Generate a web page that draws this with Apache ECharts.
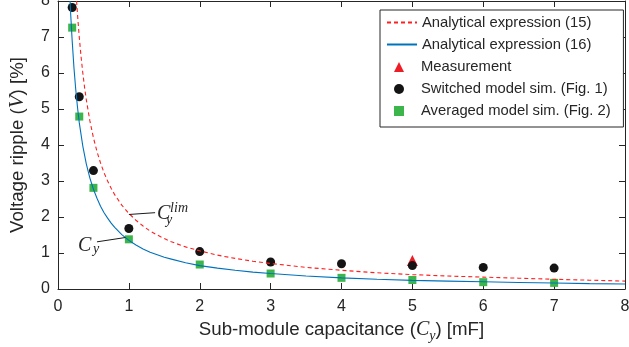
<!DOCTYPE html>
<html>
<head>
<meta charset="utf-8">
<script src="https://cdn.jsdelivr.net/npm/echarts@6/dist/echarts.min.js"></script>
<style>
  html, body { margin: 0; padding: 0; background: #fff; }
  #chart { width: 629px; height: 347px; }
</style>
</head>
<body>
<div id="chart"></div>
<script>
// values
const capacitance = [0.2, 0.3, 0.5, 1, 2, 3, 4, 5, 6, 7];
const switchedRipple = [7.82, 5.34, 3.29, 1.68, 1.04, 0.75, 0.70, 0.65, 0.60, 0.58];
const averagedRipple = [7.26, 4.79, 2.81, 1.38, 0.68, 0.43, 0.31, 0.25, 0.19, 0.17];
const measurementC = [5];
const measurementRipple = [0.79];

// analytical curves
const expr15C = [0.262, 0.28, 0.3, 0.325, 0.35, 0.375, 0.4, 0.45, 0.5, 0.55, 0.6, 0.65, 0.7, 0.75, 0.8, 0.9,
  1.0, 1.1, 1.2, 1.3, 1.4, 1.5, 1.6, 1.8, 2.0, 2.25, 2.5, 2.75, 3.0, 3.5, 4, 4.5, 5, 5.5, 6, 6.5, 7, 7.5, 8];
const expr15Ripple = [8.0, 7.5, 7.0, 6.46, 6.0, 5.6, 5.25, 4.67, 4.2, 3.82, 3.5, 3.23, 3.0, 2.8, 2.62, 2.33,
  2.1, 1.91, 1.75, 1.61, 1.5, 1.4, 1.31, 1.17, 1.06, 0.94, 0.85, 0.77, 0.71, 0.6, 0.52, 0.45, 0.40, 0.36, 0.33, 0.30, 0.27, 0.245, 0.22];
const expr16C = [0.17, 0.18, 0.2, 0.225, 0.25, 0.275, 0.3, 0.35, 0.4, 0.45, 0.5, 0.55, 0.6, 0.65, 0.7, 0.75, 0.8, 0.9,
  1.0, 1.1, 1.2, 1.3, 1.4, 1.5, 1.6, 1.8, 2.0, 2.25, 2.5, 2.75, 3, 3.5, 4, 4.5, 5, 5.5, 6, 6.5, 7, 7.5, 8];
const expr16Ripple = [8.0, 7.6, 6.9, 6.15, 5.55, 5.05, 4.62, 3.97, 3.47, 3.08, 2.77, 2.52, 2.3, 2.12, 1.97, 1.83, 1.71, 1.51,
  1.35, 1.22, 1.11, 1.02, 0.95, 0.88, 0.83, 0.73, 0.65, 0.58, 0.52, 0.47, 0.43, 0.36, 0.31, 0.27, 0.24, 0.22, 0.20, 0.18, 0.165, 0.15, 0.14];

const lineNames = ["Analytical expression (15)", "Analytical expression (16)"];
const markerNames = ["Measurement", "Switched model sim. (Fig. 1)", "Averaged model sim. (Fig. 2)"];

// annotation leaders [curve point, label end] in data units
const limLeader = [[1.0, 2.07], [1.37, 2.12]];
const cyLeader = [[0.95, 1.43], [0.55, 1.31]];

const axisColor = "#262626";
const sans = "Liberation Sans, Arial, Helvetica, sans-serif";
const serif = "Liberation Serif, Times New Roman, serif";

const zip = (xs, ys) => xs.map((x, i) => [x, ys[i]]);

const chart = echarts.init(document.getElementById("chart"));

const baseAxis = {
  type: "value",
  min: 0,
  max: 8,
  interval: 1,
  splitLine: { show: false },
  axisLine: { show: true, onZero: false, lineStyle: { color: axisColor, width: 1 } },
  axisTick: { show: true, inside: true, length: 6, lineStyle: { color: axisColor } },
};

const legendText = { fontSize: 14.8, color: axisColor, fontFamily: sans };

const option = {
  animation: false,
  grid: { left: 58, right: 4, top: 1, bottom: 58, outerBoundsMode: "none" },
  xAxis: [
    {
      ...baseAxis,
      position: "bottom",
      axisLabel: { fontSize: 16, color: axisColor, fontFamily: sans, margin: 10 },
      name: "{t|Sub-module capacitance (}{c|C}{s|y}{t|) [mF]}",
      nameLocation: "middle",
      nameGap: 26,
      nameTextStyle: {
        rich: {
          t: { fontSize: 18.7, fontFamily: sans, color: axisColor },
          c: { fontSize: 20, fontFamily: serif, fontStyle: "italic", color: axisColor },
          s: { fontSize: 14, fontFamily: serif, fontStyle: "italic", color: axisColor, padding: [12, 0, 0, 0] },
        },
      },
    },
    { ...baseAxis, position: "top", axisLabel: { show: false } },
  ],
  yAxis: [
    {
      ...baseAxis,
      position: "left",
      axisLabel: { fontSize: 16, color: axisColor, fontFamily: sans, margin: 8 },
      name: "{t|Voltage ripple (}{v|V}{t|) [%]}",
      nameLocation: "middle",
      nameGap: 30,
      nameTextStyle: {
        rich: {
          t: { fontSize: 18.7, fontFamily: sans, color: axisColor },
          v: { fontSize: 21, fontFamily: serif, fontStyle: "italic", color: axisColor },
        },
      },
    },
    { ...baseAxis, position: "right", axisLabel: { show: false } },
  ],
  legend: [
    {
      // line entries, its border also frames the marker entries below
      orient: "vertical",
      left: 380,
      top: 10,
      itemWidth: 30,
      itemHeight: 9,
      itemGap: 7,
      padding: [5, 32, 75, 6],
      borderColor: axisColor,
      borderWidth: 1,
      backgroundColor: "#fff",
      textStyle: legendText,
      data: lineNames.map((n) => ({ name: n, itemStyle: { opacity: 0 } })),
    },
    {
      orient: "vertical",
      left: 394,
      top: 59.5,
      z: 6,
      itemWidth: 10,
      itemHeight: 10,
      itemGap: 7,
      padding: 0,
      textStyle: { ...legendText, padding: [0, 0, 0, 12] },
      data: markerNames,
    },
  ],
  series: [
    {
      name: lineNames[0],
      type: "line",
      data: zip(expr15C, expr15Ripple),
      symbol: "none",
      lineStyle: { color: "#ff2020", width: 1.1, type: [4, 3] },
      itemStyle: { color: "#ff2020" },
      markLine: {
        silent: true,
        symbol: "none",
        label: { show: false },
        lineStyle: { color: "#1a1a1a", width: 1, type: "solid" },
        data: [
          [{ coord: limLeader[0] }, { coord: limLeader[1] }],
          [{ coord: cyLeader[0] }, { coord: cyLeader[1] }],
        ],
      },
    },
    {
      name: lineNames[1],
      type: "line",
      data: zip(expr16C, expr16Ripple),
      symbol: "none",
      lineStyle: { color: "#0072bd", width: 1.1 },
      itemStyle: { color: "#0072bd" },
    },
    {
      name: markerNames[0],
      type: "scatter",
      data: zip(measurementC, measurementRipple),
      symbol: "triangle",
      symbolSize: 11,
      itemStyle: { color: "#ee1c24", opacity: 1 },
    },
    {
      name: markerNames[1],
      type: "scatter",
      data: zip(capacitance, switchedRipple),
      symbol: "circle",
      symbolSize: 9,
      itemStyle: { color: "#141414", opacity: 1 },
    },
    {
      name: markerNames[2],
      type: "scatter",
      data: zip(capacitance, averagedRipple),
      symbol: "rect",
      symbolSize: 8,
      itemStyle: { color: "#3cb54a", opacity: 1 },
    },
  ],
};

chart.setOption(option);

// math labels next to the leader lines
function mathText(x, y, text, size) {
  return {
    type: "text",
    x: x,
    y: y,
    silent: true,
    style: {
      text: text,
      fill: axisColor,
      font: "italic " + size + "px " + serif,
      align: "left",
      verticalAlign: "middle",
    },
  };
}

const limEnd = chart.convertToPixel({ gridIndex: 0 }, limLeader[1]);
const cyEnd = chart.convertToPixel({ gridIndex: 0 }, cyLeader[1]);

chart.setOption({
  graphic: [
    mathText(limEnd[0] + 2, limEnd[1] + 1.5, "C", 20),
    mathText(limEnd[0] + 15, limEnd[1] - 4.5, "lim", 14),
    mathText(limEnd[0] + 11, limEnd[1] + 7.5, "y", 14),
    mathText(cyEnd[0] - 19, cyEnd[1] + 3.5, "C", 20),
    mathText(cyEnd[0] - 4, cyEnd[1] + 7, "y", 14),
  ],
});
</script>
</body>
</html>
